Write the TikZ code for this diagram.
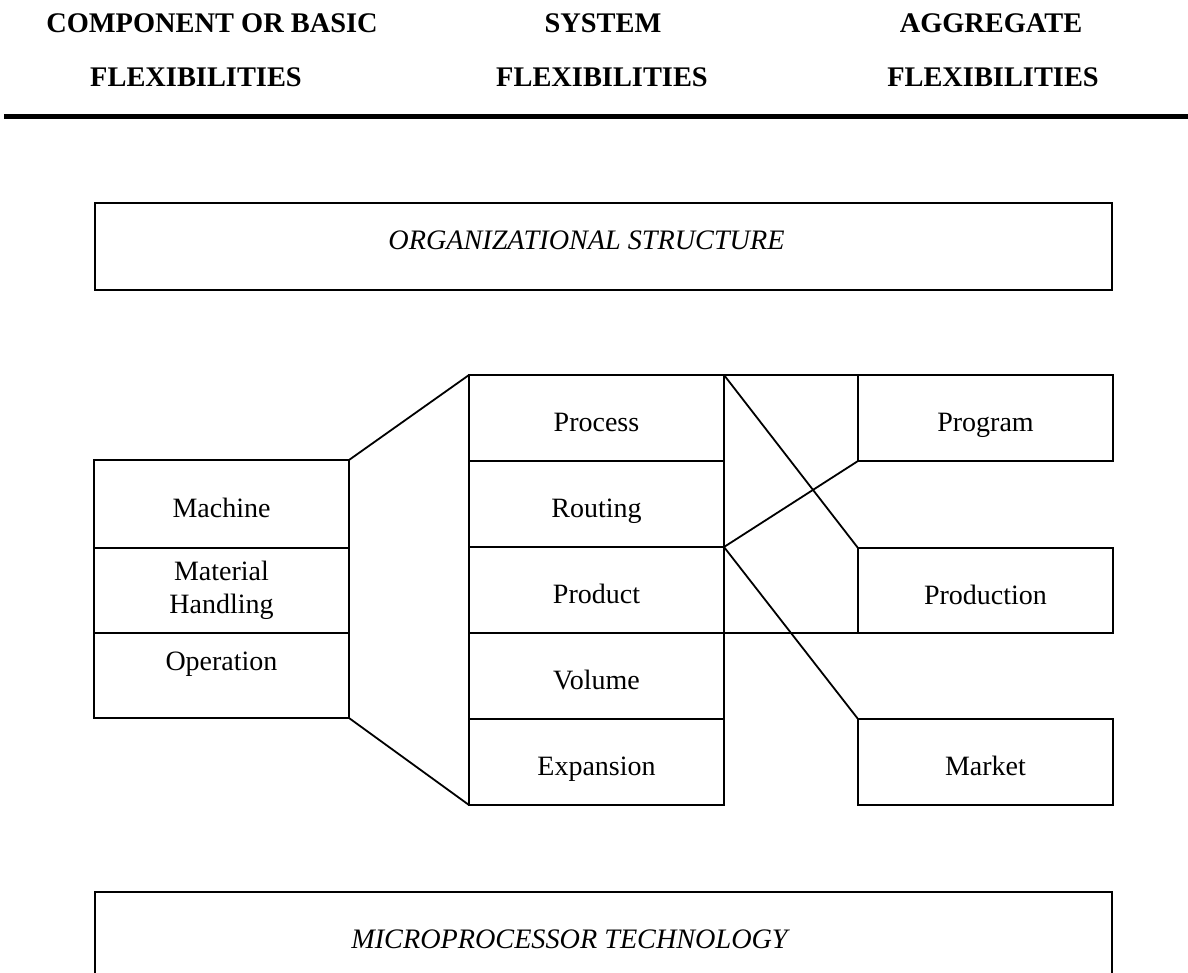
\documentclass[tikz,border=0pt]{standalone}
\usepackage{fontspec}
\setmainfont{Liberation Serif}
\begin{document}
\begin{tikzpicture}[x=1pt, y=-1pt, line width=1.8pt,
  cell/.style={draw, anchor=north west, outer sep=0pt, inner sep=0pt,
    minimum width=255pt, minimum height=86pt,
    font=\fontsize{28}{33}\selectfont, text height=27pt, text depth=0pt},
  lbl/.style={anchor=base, inner sep=0pt, font=\fontsize{28}{33}\selectfont},
  head/.style={anchor=base, inner sep=0pt, font=\fontsize{28.4}{34}\selectfont\bfseries},
  banner/.style={draw, anchor=north west, outer sep=0pt, inner sep=0pt, minimum width=1017pt},
  bannertext/.style={anchor=base, inner sep=0pt, font=\fontsize{28.2}{33}\selectfont\itshape},
  link/.style={line width=1.8pt}]
\useasboundingbox (0,0) rectangle (1188,973);

% column headings
\node[head] (h1a) at (212,33) {COMPONENT OR BASIC};
\node[head] (h1b) at (196,87) {FLEXIBILITIES};
\node[head] (h2a) at (603,33) {SYSTEM};
\node[head] (h2b) at (602,87) {FLEXIBILITIES};
\node[head] (h3a) at (991,33) {AGGREGATE};
\node[head] (h3b) at (993,87) {FLEXIBILITIES};
\coordinate (rulel) at (4,117);
\coordinate (ruler) at (1188,117);
\draw[line width=5pt] (rulel) -- (ruler);

% organizational structure banner
\node[banner, minimum height=87pt] (org) at (95,203) {};
\node[bannertext] (orgt) at (586.5,250) {ORGANIZATIONAL STRUCTURE};

% component flexibilities
\node[cell, minimum height=88pt] (mach) at (94,460) {Machine};
\node[cell, minimum height=85pt, text height=, text depth=, align=center] (matl) at (94,548) {Material\\Handling};
\node[cell, minimum height=85pt] (oper) at (94,633) {};
\node[lbl] (opert) at (221.5,670) {Operation};

% system flexibilities
\node[cell] (proc) at (469,375) {Process};
\node[cell] (rout) at (469,461) {Routing};
\node[cell] (prod) at (469,547) {Product};
\node[cell] (volu) at (469,633) {Volume};
\node[cell] (expa) at (469,719) {Expansion};

% aggregate flexibilities
\node[cell] (prog) at (858,375) {Program};
\node[cell, minimum height=85pt] (prdn) at (858,548) {Production};
\node[cell] (mark) at (858,719) {Market};

% connectors
\draw[link] (mach.north east) -- (proc.north west);
\draw[link] (oper.south east) -- (expa.south west);
\draw[link] (proc.north east) -- (prog.north west);
\draw[link] (proc.north east) -- (prdn.north west);
\draw[link] (prod.north east) -- (prog.south west);
\draw[link] (prod.north east) -- (mark.north west);
\draw[link] (prod.south east) -- (prdn.south west);

% microprocessor technology banner
\node[banner, minimum height=120pt] (micro) at (95,892) {};
\node[bannertext] (microt) at (569.5,948) {MICROPROCESSOR TECHNOLOGY};
\end{tikzpicture}
\end{document}
